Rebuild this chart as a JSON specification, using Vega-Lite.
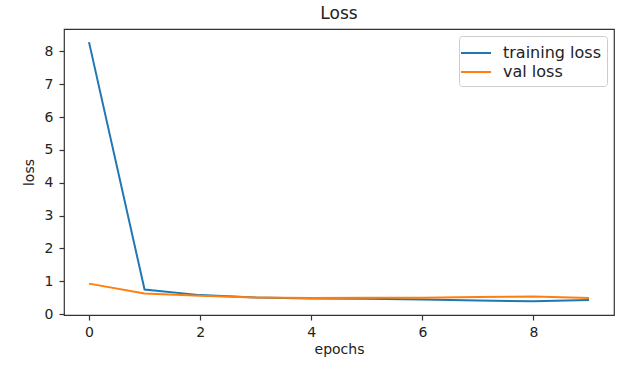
{
  "$schema": "https://vega.github.io/schema/vega-lite/v6.json",
  "width": 550,
  "height": 286,
  "autosize": {"type": "none"},
  "padding": {"left": 64, "top": 29, "right": 8, "bottom": 52},
  "background": "white",
  "config": {
    "font": "DejaVu Sans",
    "view": {"stroke": "#333333", "strokeWidth": 1.2},
    "axis": {
      "grid": false,
      "domain": false,
      "tickColor": "#333333",
      "tickSize": 5,
      "tickWidth": 1.2,
      "labelFont": "DejaVu Sans",
      "labelFontSize": 14,
      "labelColor": "#222222",
      "titleFont": "DejaVu Sans",
      "titleFontSize": 14,
      "titleFontWeight": "normal",
      "titleColor": "#222222"
    }
  },
  "title": {
    "text": "Loss",
    "font": "DejaVu Sans",
    "fontSize": 17,
    "fontWeight": "normal",
    "color": "#222222",
    "anchor": "middle",
    "offset": 6
  },
  "data": {
    "values": [
      {"epoch": 0, "series": "training loss", "loss": 8.28},
      {"epoch": 1, "series": "training loss", "loss": 0.75},
      {"epoch": 2, "series": "training loss", "loss": 0.58},
      {"epoch": 3, "series": "training loss", "loss": 0.51},
      {"epoch": 4, "series": "training loss", "loss": 0.48},
      {"epoch": 5, "series": "training loss", "loss": 0.47},
      {"epoch": 6, "series": "training loss", "loss": 0.45},
      {"epoch": 7, "series": "training loss", "loss": 0.42},
      {"epoch": 8, "series": "training loss", "loss": 0.39},
      {"epoch": 9, "series": "training loss", "loss": 0.43},
      {"epoch": 0, "series": "val loss", "loss": 0.93},
      {"epoch": 1, "series": "val loss", "loss": 0.63},
      {"epoch": 2, "series": "val loss", "loss": 0.56},
      {"epoch": 3, "series": "val loss", "loss": 0.51},
      {"epoch": 4, "series": "val loss", "loss": 0.49},
      {"epoch": 5, "series": "val loss", "loss": 0.5},
      {"epoch": 6, "series": "val loss", "loss": 0.5},
      {"epoch": 7, "series": "val loss", "loss": 0.52},
      {"epoch": 8, "series": "val loss", "loss": 0.54},
      {"epoch": 9, "series": "val loss", "loss": 0.49}
    ]
  },
  "mark": {"type": "line", "strokeWidth": 2, "clip": true},
  "encoding": {
    "x": {
      "field": "epoch",
      "type": "quantitative",
      "scale": {"domain": [-0.45, 9.45], "nice": false, "zero": false},
      "axis": {"values": [0, 2, 4, 6, 8], "format": "d", "title": "epochs", "labelPadding": 5, "titlePadding": 3}
    },
    "y": {
      "field": "loss",
      "type": "quantitative",
      "scale": {"domain": [-0.025, 8.68], "nice": false, "zero": false},
      "axis": {"values": [0, 1, 2, 3, 4, 5, 6, 7, 8], "format": "d", "title": "loss", "labelPadding": 6, "titlePadding": 8}
    },
    "color": {
      "field": "series",
      "type": "nominal",
      "scale": {"domain": ["training loss", "val loss"], "range": ["#1f77b4", "#ff7f0e"]},
      "legend": {
        "title": null,
        "orient": "top-right",
        "offset": 7,
        "symbolType": "M-1.5,0H1.5",
        "symbolSize": 400,
        "symbolStrokeWidth": 2,
        "labelFont": "DejaVu Sans",
        "labelFontSize": 16,
        "labelColor": "#222222",
        "labelOffset": 16,
        "rowPadding": 0,
        "padding": 6,
        "strokeColor": "#cccccc",
        "fillColor": "white",
        "cornerRadius": 3
      }
    }
  }
}
